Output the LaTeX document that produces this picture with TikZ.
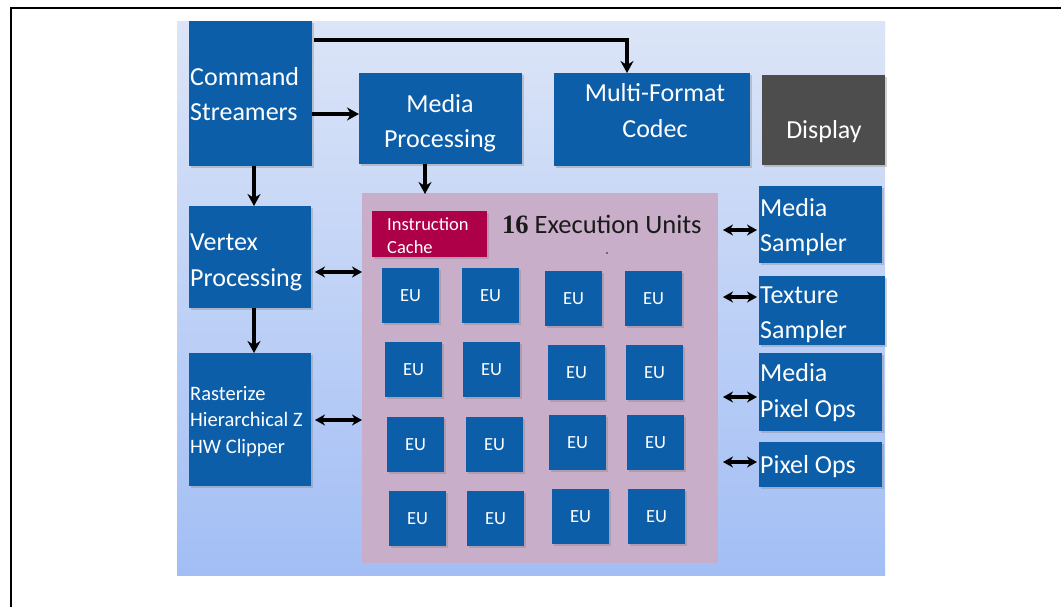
\documentclass[tikz,border=0pt]{standalone}
\usepackage{fontspec}
\setmainfont{Carlito}
\newfontfamily\numfont{Liberation Serif}
\usetikzlibrary{arrows.meta,shadows}
\definecolor{boxblue}{RGB}{12,94,168}
\definecolor{dispgray}{RGB}{77,77,77}
\definecolor{cachered}{RGB}{174,0,72}
\definecolor{eupink}{RGB}{200,174,200}
\definecolor{bgtop}{RGB}{220,229,247}
\definecolor{bgbot}{RGB}{162,190,245}
\definecolor{titledark}{RGB}{26,26,26}
\begin{document}
\begin{tikzpicture}[x=1pt,y=-1pt,
  box/.style={fill=boxblue, inner sep=0pt, outer sep=0pt, anchor=north west,
    drop shadow={shadow xshift=1.5pt, shadow yshift=-1.5pt, opacity=0.35}},
  eubox/.style={box, minimum width=57pt, minimum height=55pt, text=white,
    font=\fontsize{18.5}{22}\selectfont},
  wlbl/.style={anchor=base west, text=white, inner sep=0pt, font=\fontsize{26}{30}\selectfont},
  clbl/.style={wlbl, anchor=base},
  slbl/.style={wlbl, font=\fontsize{20.5}{24}\selectfont},
  iclbl/.style={wlbl, font=\fontsize{18.5}{22}\selectfont},
  arr/.style={line width=3.6pt, -{Stealth[length=12pt,width=13pt]}},
  dbl/.style={line width=3.2pt, {Stealth[length=10pt,width=11pt]}-{Stealth[length=10pt,width=11pt]}}
]
\useasboundingbox (0,0) rectangle (1061,606);
\clip (0,0) rectangle (1061,606);
\fill[white] (0,0) rectangle (1061,606);
\draw[line width=2pt] (11,620) -- (11,8) -- (1075,8);
\shade[top color=bgtop, bottom color=bgbot] (177,21) rectangle (885,575);

% execution unit region
\node[fill=eupink, inner sep=0pt, outer sep=0pt, anchor=north west,
  minimum width=356pt, minimum height=370pt] (pink) at (362,193) {};
\node[box, fill=cachered, minimum width=115pt, minimum height=46pt] (ic) at (372,211) {};
\node[iclbl] (icA) at (387,230) {Instruction};
\node[iclbl] (icB) at (387,253) {Cache};
\node[anchor=base west, inner sep=0pt, text=titledark, font=\fontsize{26.5}{30}\selectfont]
  (title) at (502,233) {{\numfont\bfseries 16} Execution Units};
\fill[titledark] (607,253) circle (0.8);

% EUs
\node[eubox] (eu11) at (382,268) {EU};
\node[eubox] (eu12) at (462,268) {EU};
\node[eubox] (eu13) at (545,271) {EU};
\node[eubox] (eu14) at (625,271) {EU};
\node[eubox] (eu21) at (385,342) {EU};
\node[eubox] (eu22) at (463,342) {EU};
\node[eubox] (eu23) at (548,345) {EU};
\node[eubox] (eu24) at (626,345) {EU};
\node[eubox] (eu31) at (387,417) {EU};
\node[eubox] (eu32) at (466,417) {EU};
\node[eubox] (eu33) at (549,415) {EU};
\node[eubox] (eu34) at (627,415) {EU};
\node[eubox] (eu41) at (389,491) {EU};
\node[eubox] (eu42) at (467,491) {EU};
\node[eubox] (eu43) at (552,489) {EU};
\node[eubox] (eu44) at (628,489) {EU};

% left column
\node[box, minimum width=123pt, minimum height=145pt] (cs) at (189,21) {};
\node[wlbl] (csA) at (190,85) {Command};
\node[wlbl] (csB) at (190,120) {Streamers};
\node[box, minimum width=122pt, minimum height=102pt] (vp) at (189,206) {};
\node[wlbl] (vpA) at (190,250) {Vertex};
\node[wlbl] (vpB) at (190,286) {Processing};
\node[box, minimum width=122pt, minimum height=133pt] (rz) at (189,353) {};
\node[slbl] (rzA) at (190,400) {Rasterize};
\node[slbl] (rzB) at (190,426) {Hierarchical Z};
\node[slbl] (rzC) at (190,453) {HW Clipper};

% top row
\node[box, minimum width=163pt, minimum height=91pt] (mp) at (359,73) {};
\node[clbl] (mpA) at (440,112) {Media};
\node[clbl] (mpB) at (440,147) {Processing};
\node[box, minimum width=196pt, minimum height=93pt] (mfc) at (554,73) {};
\node[clbl] (mfcA) at (655,101) {Multi-Format};
\node[clbl] (mfcB) at (655,137) {Codec};
\node[box, fill=dispgray, minimum width=123pt, minimum height=90pt] (disp) at (762,75) {};
\node[clbl] (dispA) at (824,138) {Display};

% right column
\node[box, minimum width=123pt, minimum height=77pt] (ms) at (759,186) {};
\node[wlbl] (msA) at (760,216) {Media};
\node[wlbl] (msB) at (760,251) {Sampler};
\node[box, minimum width=126pt, minimum height=69pt] (ts) at (759,276) {};
\node[wlbl] (tsA) at (760,303) {Texture};
\node[wlbl] (tsB) at (760,338) {Sampler};
\node[box, minimum width=123pt, minimum height=78pt] (mpo) at (759,353) {};
\node[wlbl] (mpoA) at (760,381) {Media};
\node[wlbl] (mpoB) at (760,417) {Pixel Ops};
\node[box, minimum width=123pt, minimum height=45pt] (po) at (759,442) {};
\node[wlbl] (poA) at (760,473) {Pixel Ops};

% connectors
\draw[arr] ([xshift=2pt]cs.north east |- 0,40) -| ([xshift=-25pt]mfc.north);
\draw[arr] (cs.east |- 0,114) -- (mp.west |- 0,114);
\draw[arr] (cs.south -| 254,0) -- (vp.north -| 254,0);
\draw[arr] (vp.south -| 254,0) -- (rz.north -| 254,0);
\draw[arr] (mp.south -| 425,0) -- ([yshift=-1pt]pink.north -| 425,0);
\draw[dbl, shorten <=4pt] (vp.east |- 0,272) -- (pink.west |- 0,272);
\draw[dbl, shorten <=4pt] (rz.east |- 0,420) -- (pink.west |- 0,420);
\draw[dbl, shorten <=5pt, shorten >=2pt] (pink.east |- 0,230) -- (ms.west |- 0,230);
\draw[dbl, shorten <=5pt, shorten >=2pt] (pink.east |- 0,297) -- (ts.west |- 0,297);
\draw[dbl, shorten <=5pt, shorten >=2pt] (pink.east |- 0,397) -- (mpo.west |- 0,397);
\draw[dbl, shorten <=5pt, shorten >=2pt] (pink.east |- 0,462) -- (po.west |- 0,462);
\end{tikzpicture}
\end{document}
